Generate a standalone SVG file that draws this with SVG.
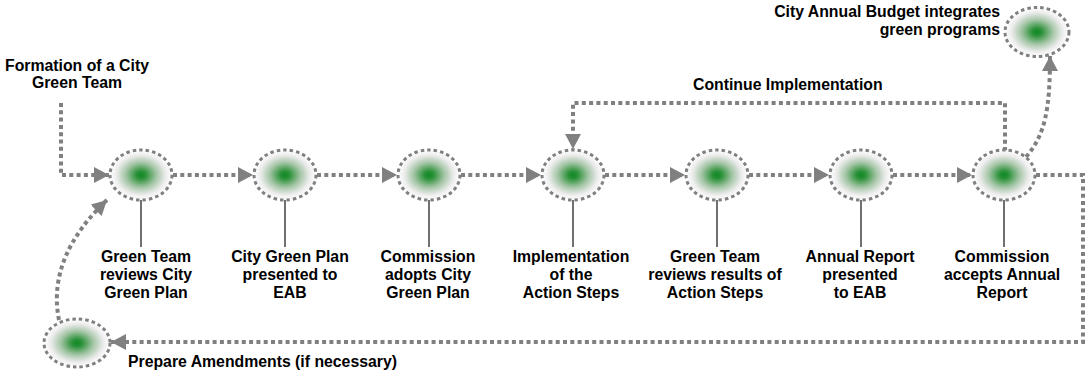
<svg xmlns="http://www.w3.org/2000/svg" width="1088" height="373" viewBox="0 0 1088 373">
<style>
.t{font-family:"Liberation Sans",Arial,sans-serif;font-weight:bold;font-size:15.8px;fill:#000}
.m{text-anchor:middle}
.e{text-anchor:end}
.node{fill:url(#g);stroke:#808080;stroke-width:3;stroke-dasharray:3.5 3}
.stem{stroke:#707070;stroke-width:2}
.c{fill:none;stroke:#808080;stroke-width:4;stroke-dasharray:4 3.3}
</style>
<defs>
<radialGradient id="g" cx="0.5" cy="0.5" r="0.5">
<stop offset="0" stop-color="#0c8a22"/>
<stop offset="0.15" stop-color="#2b9139"/>
<stop offset="0.5" stop-color="#a6c6a8"/>
<stop offset="0.8" stop-color="#ececec"/>
<stop offset="1" stop-color="#ffffff"/>
</radialGradient>
<marker id="a" markerUnits="userSpaceOnUse" markerWidth="16" markerHeight="16" refX="15" refY="8" orient="auto" viewBox="0 0 16 16">
<path d="M0,0 L15,8 L0,16 z" fill="#808080"/>
</marker>
</defs>
<g id="connectors">
<path class="c" d="M61,103 V175 H109" marker-end="url(#a)"/>
<path class="c" d="M173,175 H253" marker-end="url(#a)"/>
<path class="c" d="M317,175 H397" marker-end="url(#a)"/>
<path class="c" d="M461,175 H541" marker-end="url(#a)"/>
<path class="c" d="M605,175 H685" marker-end="url(#a)"/>
<path class="c" d="M749,175 H829" marker-end="url(#a)"/>
<path class="c" d="M893,175 H972" marker-end="url(#a)"/>
<path class="c" d="M1005,151 V103 H573 V149" marker-end="url(#a)"/>
<path class="c" d="M1026,157 C1045,135 1050,110 1050,56" marker-end="url(#a)"/>
<path class="c" d="M1036,175 H1083 V342 H111" marker-end="url(#a)"/>
<path class="c" d="M59,320 C50,275 70,235 107,200" marker-end="url(#a)"/>
</g>
<g id="n1"><ellipse class="node" cx="141" cy="175" rx="31" ry="25"/><line class="stem" x1="141" y1="200" x2="141" y2="247"/>
<text class="t m"><tspan x="146" y="262">Green Team</tspan><tspan x="146" y="280">reviews City</tspan><tspan x="146" y="298">Green Plan</tspan></text></g>
<g id="n2"><ellipse class="node" cx="285" cy="175" rx="31" ry="25"/><line class="stem" x1="285" y1="200" x2="285" y2="247"/>
<text class="t m"><tspan x="290" y="262">City Green Plan</tspan><tspan x="290" y="280">presented to</tspan><tspan x="290" y="298">EAB</tspan></text></g>
<g id="n3"><ellipse class="node" cx="429" cy="175" rx="31" ry="25"/><line class="stem" x1="429" y1="200" x2="429" y2="247"/>
<text class="t m"><tspan x="428" y="262">Commission</tspan><tspan x="428" y="280">adopts City</tspan><tspan x="428" y="298">Green Plan</tspan></text></g>
<g id="n4"><ellipse class="node" cx="573" cy="175" rx="31" ry="25"/><line class="stem" x1="573" y1="200" x2="573" y2="247"/>
<text class="t m"><tspan x="571" y="262">Implementation</tspan><tspan x="571" y="280">of the</tspan><tspan x="571" y="298">Action Steps</tspan></text></g>
<g id="n5"><ellipse class="node" cx="717" cy="175" rx="31" ry="25"/><line class="stem" x1="717" y1="200" x2="717" y2="247"/>
<text class="t m"><tspan x="715" y="262">Green Team</tspan><tspan x="715" y="280">reviews results of</tspan><tspan x="715" y="298">Action Steps</tspan></text></g>
<g id="n6"><ellipse class="node" cx="861" cy="175" rx="31" ry="25"/><line class="stem" x1="861" y1="200" x2="861" y2="247"/>
<text class="t m"><tspan x="860" y="262">Annual Report</tspan><tspan x="860" y="280">presented</tspan><tspan x="860" y="298">to EAB</tspan></text></g>
<g id="n7"><ellipse class="node" cx="1004" cy="175" rx="31" ry="25"/><line class="stem" x1="1004" y1="200" x2="1004" y2="247"/>
<text class="t m"><tspan x="1002" y="262">Commission</tspan><tspan x="1002" y="280">accepts Annual</tspan><tspan x="1002" y="298">Report</tspan></text></g>
<g id="n8"><ellipse class="node" cx="1037" cy="32" rx="32" ry="24.5"/>
<text class="t e"><tspan x="1000" y="17">City Annual Budget integrates</tspan><tspan x="1000" y="35">green programs</tspan></text></g>
<g id="n9"><ellipse class="node" cx="77" cy="343" rx="33" ry="24"/>
<text class="t" x="128" y="367">Prepare Amendments (if necessary)</text></g>
<g id="start"><text class="t m"><tspan x="77" y="71">Formation of a City</tspan><tspan x="77" y="88">Green Team</tspan></text></g>
<text class="t" x="693" y="90">Continue Implementation</text>
</svg>
